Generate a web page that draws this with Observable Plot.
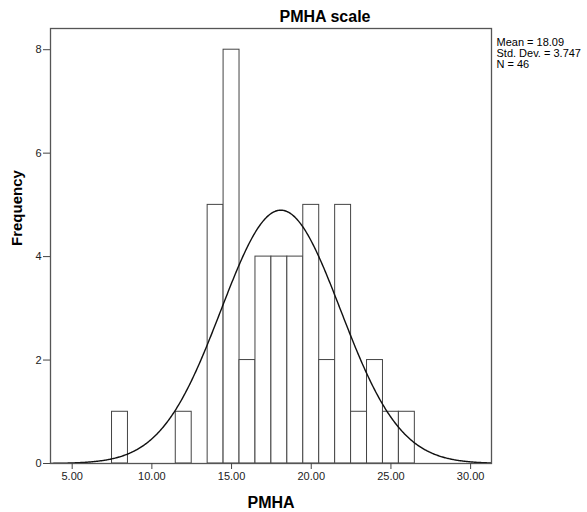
<!DOCTYPE html>
<html><head><meta charset="utf-8">
<script src="https://cdn.jsdelivr.net/npm/d3@7"></script>
<script src="https://cdn.jsdelivr.net/npm/@observablehq/plot@0.6"></script>
<style>body{margin:0;background:#fff}svg{display:block}</style>
</head><body><div id="chart"></div>
<script>
const binCenters = [8, 12, 14, 15, 16, 17, 18, 19, 20, 21, 22, 23, 24, 25, 26];
const frequencies = [1, 1, 5, 8, 2, 4, 4, 4, 5, 2, 5, 1, 2, 1, 1];
const xTicks = [5, 10, 15, 20, 25, 30];
const yTicks = [0, 2, 4, 6, 8];
const meanValue = 18.09, sdValue = 3.747, nValue = 46, binWidth = 1;
const xDomain = [3.64, 31.31];
const yDomain = [0, 8.41];
const titleText = ["PMHA scale"];
const xLabelText = ["PMHA"];
const yLabelText = ["Frequency"];
const statsText = ["Mean = 18.09\nStd. Dev. = 3.747\nN = 46"];

const bars = binCenters.map((c, i) => ({x1: c - binWidth / 2, x2: c + binWidth / 2, count: frequencies[i]}));
const curve = d3.range(xDomain[0], xDomain[1] + 0.001, 0.05).map(x => ({
  x,
  y: nValue * binWidth / (sdValue * Math.sqrt(2 * Math.PI)) * Math.exp(-0.5 * ((x - meanValue) / sdValue) ** 2)
}));

const font = "Liberation Sans, Arial, sans-serif";
const chart = Plot.plot({
  width: 587,
  height: 512,
  marginLeft: 50,
  marginRight: 96,
  marginTop: 28,
  marginBottom: 49,
  style: {fontFamily: font, fontSize: "11px", color: "#222", background: "#fff"},
  x: {domain: xDomain},
  y: {domain: yDomain},
  marks: [
    Plot.rectY(bars, {x1: "x1", x2: "x2", y: "count", fill: "white", stroke: "#444", strokeWidth: 1}),
    Plot.line(curve, {x: "x", y: "y", stroke: "#111", strokeWidth: 1.4}),
    Plot.frame({stroke: "#555", strokeWidth: 1.3}),
    Plot.axisX({ticks: xTicks, tickFormat: d3.format(".2f"), tickSize: 6, tickPadding: 3, label: null, stroke: "#444", fill: "#222"}),
    Plot.axisY({ticks: yTicks, tickFormat: d => String(d), tickSize: 7, tickPadding: 2, label: null, stroke: "#444", fill: "#222"}),
    Plot.text(titleText, {frameAnchor: "top", dx: 54, dy: -7, lineAnchor: "bottom", fontSize: 16, fontWeight: "bold", fill: "#000"}),
    Plot.text(xLabelText, {frameAnchor: "bottom", dy: 44, lineAnchor: "bottom", fontSize: 16, fontWeight: "bold", fill: "#000"}),
    Plot.text(yLabelText, {frameAnchor: "left", dx: -33, rotate: -90, fontSize: 15, fontWeight: "bold", fill: "#000"}),
    Plot.text(statsText, {frameAnchor: "top-right", dx: 5, dy: 10, textAnchor: "start", lineAnchor: "top", lineHeight: 1.0, fontSize: 11, fill: "#000"})
  ]
});
document.getElementById("chart").appendChild(chart);
</script>
</body></html>
